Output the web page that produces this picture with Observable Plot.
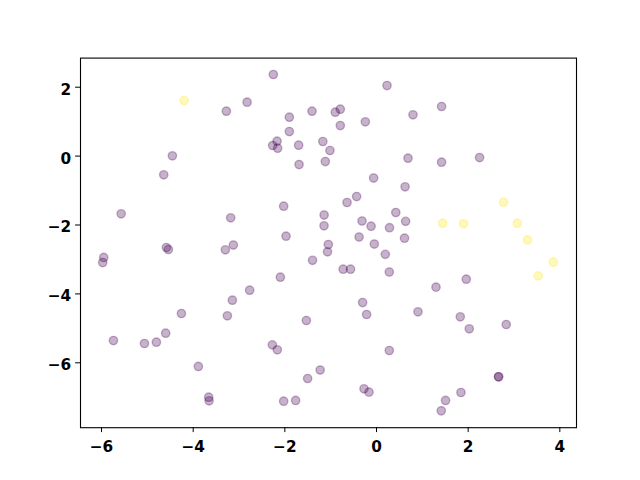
<!DOCTYPE html>
<html>
<head>
<meta charset="utf-8">
<script src="https://cdn.jsdelivr.net/npm/d3@7"></script>
<script src="https://cdn.jsdelivr.net/npm/@observablehq/plot@0.6"></script>
<style>
  html, body { margin: 0; padding: 0; background: #ffffff; }
  #chart svg text { font-size: 15.3px !important; font-weight: bold !important; font-family: "DejaVu Sans", sans-serif !important; }
</style>
</head>
<body>
<div id="chart"></div>
<script>
// Purple group (class 0)
const purpleX = [-2.251,-2.824,-3.276,-1.407,-1.902,-1.902,-2.170,-2.266,-2.157,-1.699,
  -1.171,-1.016,-4.454,-1.690,-1.117,-4.643,-5.572,-2.026,-3.182,-1.143,
  -1.145,-1.974,-1.051,-1.069,-4.585,-4.541,-3.123,-3.298,0.229,-0.790,
  -0.899,1.420,0.796,-0.790,-0.244,0.687,1.420,2.249,-0.063,0.624,
  -0.434,-0.643,0.421,-0.316,-0.118,0.284,0.635,-0.380,0.611,-0.048,
  0.192,-1.396,-0.728,-0.567,0.279,-5.952,-5.974,-2.098,-2.768,-3.145,
  -4.257,-3.254,-1.531,-5.740,-5.064,-4.803,-4.600,-2.273,-2.164,-3.887,
  -1.230,-1.503,-3.662,-3.653,-2.026,-1.764,1.959,1.298,-0.303,-0.216,
  0.905,1.828,2.024,2.831,0.279,2.663,2.663,-0.273,-0.164,1.843,
  1.507,1.413];
const purpleY = [2.369,1.565,1.303,1.303,1.129,0.714,0.433,0.308,0.229,0.316,
  0.424,0.163,0.009,-0.244,-0.157,-0.543,-1.675,-1.454,-1.791,-1.710,
  -2.023,-2.325,-2.566,-2.778,-2.653,-2.711,-2.581,-2.720,2.049,1.361,
  1.274,1.440,1.199,0.888,0.996,-0.061,-0.177,-0.041,-0.636,-0.891,
  -1.173,-1.347,-1.637,-1.884,-2.035,-2.078,-1.893,-2.348,-2.383,-2.552,
  -2.851,-3.025,-3.283,-3.283,-3.364,-2.943,-3.089,-3.515,-3.893,-4.183,
  -4.569,-4.636,-4.772,-5.353,-5.440,-5.402,-5.141,-5.478,-5.623,-6.107,
  -6.209,-6.456,-6.999,-7.103,-7.115,-7.094,-3.573,-3.805,-4.250,-4.598,
  -4.520,-4.665,-5.013,-4.888,-5.643,-6.406,-6.406,-6.755,-6.853,-6.862,
  -7.094,-7.393];
// Yellow group (class 1)
const yellowX = [-4.198,2.772,1.442,1.900,3.071,3.296,3.856,3.529];
const yellowY = [1.614,-1.338,-1.948,-1.965,-1.948,-2.435,-3.080,-3.475];

const xTicks = [-6,-4,-2,0,2,4];
const yTicks = [2,0,-2,-4,-6];

const points = [
  ...purpleX.map((x, i) => ({x, y: purpleY[i], c: 0})),
  ...yellowX.map((x, i) => ({x, y: yellowY[i], c: 1}))
];

const fmt = d3.format("");
const font = "DejaVu Sans, sans-serif";

const chart = Plot.plot({
  width: 640,
  height: 480,
  marginLeft: 80,
  marginRight: 64,
  marginTop: 57.6,
  marginBottom: 52.8,
  style: {
    color: "black",
    background: "white",
    fontFamily: font
  },
  x: {domain: [-6.459, 4.364]},
  y: {domain: [-7.884, 2.845]},
  color: {type: "linear", scheme: "viridis", domain: [0, 1]},
  marks: [
    Plot.dot(points, {
      x: "x", y: "y",
      fill: "c", stroke: "c",
      r: 4.17,
      fillOpacity: 0.3,
      strokeOpacity: 0.3,
      strokeWidth: 1.39
    }),
    Plot.frame({stroke: "black", strokeWidth: 1.1}),
    Plot.axisX(xTicks, {tickFormat: fmt, tickSize: 4.9, tickPadding: 9, fontSize: 15.3, fontWeight: "bold", fontFamily: font, label: null}),
    Plot.axisY(yTicks, {tickFormat: () => "", tickSize: 4.9, label: null}),
    Plot.axisY(yTicks, {tickFormat: fmt, tickSize: 0, tickPadding: 9.4, dy: 2.5, fontSize: 15.3, fontWeight: "bold", fontFamily: font, label: null})
  ]
});

document.getElementById("chart").appendChild(chart);
</script>
</body>
</html>
